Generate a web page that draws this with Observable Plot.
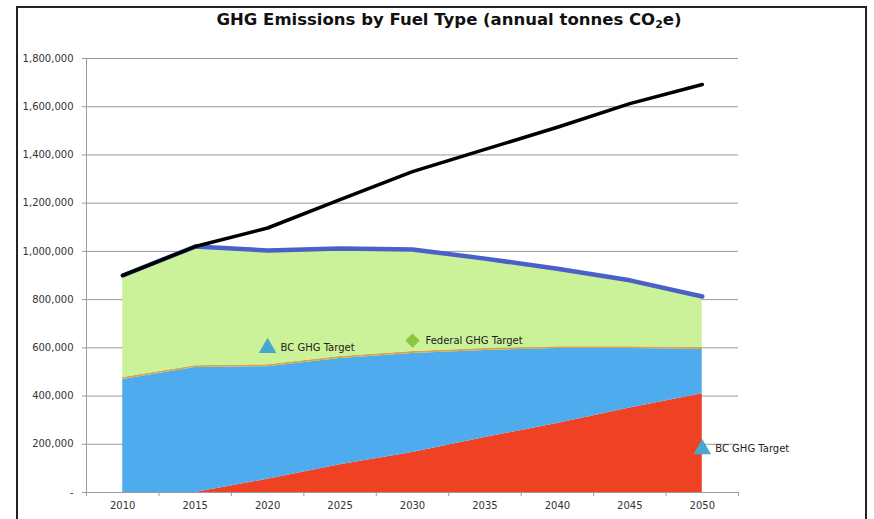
<!DOCTYPE html>
<html>
<head>
<meta charset="utf-8">
<script src="https://cdn.jsdelivr.net/npm/d3@7"></script>
<script src="https://cdn.jsdelivr.net/npm/@observablehq/plot@0.6"></script>
<style>
  html, body { margin: 0; padding: 0; background: #fff; overflow: hidden; }
  #wrap { position: relative; width: 874px; height: 519px; }
  #frame { position: absolute; left: 16px; top: 6px; width: 851px; height: 600px; border: 2px solid #222; box-sizing: border-box; pointer-events: none; }
  #title { position: absolute; top: 10px; left: 0px; width: 898px; text-align: center; font-family: "DejaVu Sans", sans-serif; font-weight: bold; font-size: 16.5px; color: #111; white-space: nowrap; }
  #title sub { font-size: 11px; vertical-align: -3px; line-height: 0; }
  #chart { position: absolute; left: 0; top: 0; }
</style>
</head>
<body>
<div id="wrap">
  <div id="chart"></div>
  <div id="frame"></div>
  <div id="title">GHG Emissions by Fuel Type (annual tonnes CO<sub>2</sub>e)</div>
</div>
<script>
// Categories
const years = [2010, 2015, 2020, 2025, 2030, 2035, 2040, 2045, 2050];
// Stacked series (tonnes CO2e), bottom to top
const redSeries    = [0, 0, 55000, 115000, 166000, 228000, 286000, 350000, 410000];
const blueSeries   = [469000, 518000, 467000, 441000, 411000, 361000, 311000, 247000, 183000];
const thinSeries   = [8000, 8000, 8000, 8000, 8000, 8000, 8000, 8000, 8000];
const greenSeries  = [423000, 494000, 474000, 448000, 423000, 373000, 323000, 275000, 212000];
// Lines
const planTotal    = [900000, 1020000, 1004000, 1012000, 1008000, 970000, 928000, 880000, 813000];
const bauTotal     = [900000, 1020000, 1097000, 1215000, 1331000, 1423000, 1515000, 1613000, 1692000];
// Targets
const targetNames  = ["BC GHG Target", "Federal GHG Target", "BC GHG Target"];
const targetYears  = [2020, 2030, 2050];
const targetValues = [600000, 630000, 180000];
const targetShapes = ["triangle", "diamond", "triangle"];
// Axis ticks
const yTicks = [0, 200000, 400000, 600000, 800000, 1000000, 1200000, 1400000, 1600000, 1800000];
const xBoundaries = [2007.5, 2012.5, 2017.5, 2022.5, 2027.5, 2032.5, 2037.5, 2042.5, 2047.5, 2052.5];

const seriesNames = ["Red", "Blue", "Thin", "Green"];
const seriesColors = ["#ef4123", "#4dabee", "#d3a845", "#cbf199"];
const seriesArrays = [redSeries, blueSeries, thinSeries, greenSeries];

const stackData = [];
seriesNames.forEach((s, i) => years.forEach((y, j) => stackData.push({year: y, series: s, value: seriesArrays[i][j]})));
const planData = years.map((y, i) => ({year: y, value: planTotal[i]}));
const bauData = years.map((y, i) => ({year: y, value: bauTotal[i]}));
const targets = targetNames.map((n, i) => ({name: n, year: targetYears[i], value: targetValues[i], shape: targetShapes[i]}));

const fmt = d => d === 0 ? "-" : d3.format(",")(d);

const chart = Plot.plot({
  width: 874,
  height: 519,
  marginLeft: 86,
  marginRight: 136,
  marginTop: 58,
  marginBottom: 27,
  style: {fontFamily: "DejaVu Sans, sans-serif", fontSize: "10px", color: "#333", background: "transparent"},
  x: {type: "linear", domain: [2007.5, 2052.5], axis: null},
  y: {domain: [0, 1800000], axis: null},
  color: {domain: seriesNames, range: seriesColors},
  marks: [
    Plot.gridY(yTicks, {stroke: "#9a9a9a", strokeOpacity: 1}),
    Plot.areaY(stackData, {x: "year", y: "value", fill: "series", order: seriesNames, curve: "linear"}),
    Plot.ruleX([2007.5], {stroke: "#9a9a9a"}),
    Plot.ruleY([0], {stroke: "#9a9a9a"}),
    Plot.axisY({ticks: yTicks, tickSize: 4, tickPadding: 9, tickFormat: fmt, stroke: "#9a9a9a", fill: "#333", label: null}),
    Plot.axisX({ticks: xBoundaries, tickSize: 4, tickFormat: () => "", stroke: "#9a9a9a", label: null}),
    Plot.axisX({ticks: years, tickSize: 0, tickPadding: 9, tickFormat: d => String(d), fill: "#333", label: null}),
    Plot.line(planData, {x: "year", y: "value", stroke: "#4a5fc9", strokeWidth: 4.5}),
    Plot.line(bauData, {x: "year", y: "value", stroke: "#000", strokeWidth: 3.5}),
    Plot.dot(targets.filter(d => d.shape === "triangle"), {x: "year", y: "value", symbol: "triangle", r: 6.5, fill: "#45a8cf"}),
    Plot.dot(targets.filter(d => d.shape === "diamond"), {x: "year", y: "value", symbol: "diamond2", r: 6.5, fill: "#8cc63f", stroke: "none"}),
    Plot.text(targets, {x: "year", y: "value", text: "name", textAnchor: "start", dx: 13, fill: "#222", fontSize: 10})
  ]
});
document.getElementById("chart").appendChild(chart);
</script>
</body>
</html>
